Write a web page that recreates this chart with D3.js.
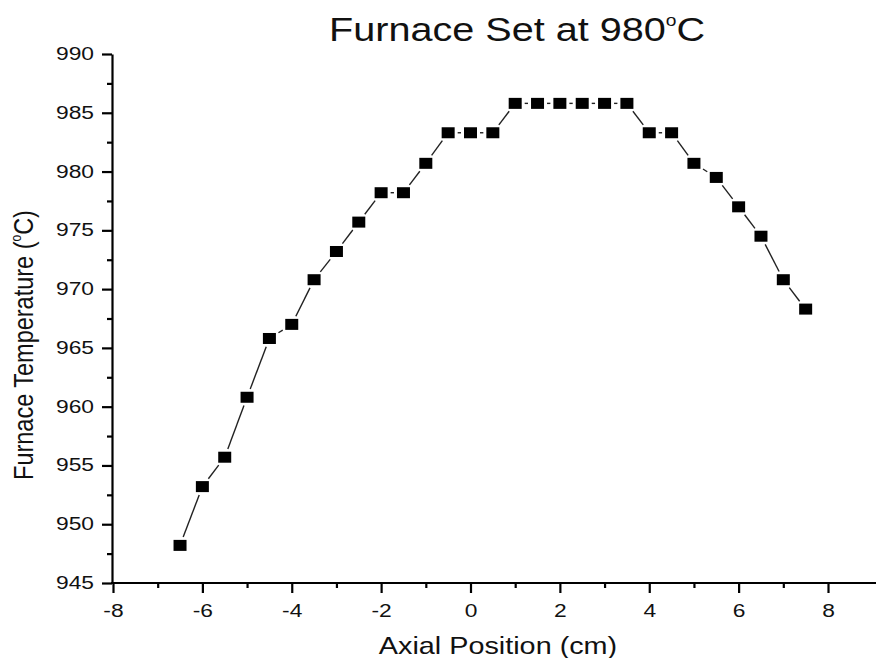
<!DOCTYPE html>
<meta charset="utf-8">
<html>
  <head>
    <title>Furnace Set at 980°C</title>
    <style>
      body { margin: 0; background: #fff; font-family: "Liberation Sans", Arial, sans-serif; }
    </style>
  </head>
  <body>
    <div id="chart"></div>
    <script src="https://d3js.org/d3.v7.min.js"></script>
    <script>

      // data
      const positions = [-6.5, -6, -5.5, -5, -4.5, -4, -3.5, -3, -2.5, -2, -1.5, -1, -0.5, 0, 0.5,
                         1, 1.5, 2, 2.5, 3, 3.5, 4, 4.5, 5, 5.5, 6, 6.5, 7, 7.5];
      const temps = [948.2, 953.2, 955.7, 960.8, 965.8, 967.0, 970.8, 973.2, 975.7, 978.2, 978.2, 980.7, 983.3, 983.3, 983.3,
                     985.8, 985.8, 985.8, 985.8, 985.8, 985.8, 983.3, 983.3, 980.7, 979.5, 977.0, 974.5, 970.8, 968.3];
      const xTicks = [-8, -6, -4, -2, 0, 2, 4, 6, 8];
      const xMinor = [-7, -5, -3, -1, 1, 3, 5, 7];
      const yTicks = [945, 950, 955, 960, 965, 970, 975, 980, 985, 990];
      const yMinor = [947.5, 952.5, 957.5, 962.5, 967.5, 972.5, 977.5, 982.5, 987.5];

      const data = positions.map((p, i) => ({x: p, y: temps[i]}));

      const W = 876, H = 658;
      const stretch = 1.2;   // the picture is a bit wider than tall
      const font = "'Liberation Sans', Arial, sans-serif";

      const svg = d3.select("#chart")
        .append("svg")
          .attr("width", W)
          .attr("height", H);

      // scales
      const x = d3.scaleLinear().domain([-8, 8]).range([113, 828]);
      const y = d3.scaleLinear().domain([945, 990]).range([583, 54]);
      const xAxisScale = x.copy().domain([-8, x.invert(W)]).range([113, W]);

      // x axis
      const gx = svg.append("g")
        .attr("transform", `translate(0, ${y(945)})`)
        .call(d3.axisBottom(xAxisScale).tickValues(xTicks).tickSize(10).tickSizeOuter(0).tickPadding(0)
              .tickFormat(d3.format("d")));
      gx.select(".domain").attr("stroke-width", 2.2).attr("d", `M111,0H${W}`);
      gx.selectAll(".tick line").attr("stroke-width", 2.2);
      gx.selectAll(".tick text")
        .attr("y", 34).attr("dy", null)
        .attr("transform", `scale(${stretch},1)`)
        .style("font-size", "19px").style("font-family", font).attr("fill", "#111")
        .text(d => d < 0 ? "-" + Math.abs(d) : d);

      svg.append("g")
        .attr("transform", `translate(0, ${y(945)})`)
        .call(d3.axisBottom(xAxisScale).tickValues(xMinor).tickSize(5).tickSizeOuter(0).tickFormat(""))
        .call(g => g.select(".domain").remove())
        .selectAll(".tick line").attr("stroke-width", 2.2);

      // y axis
      const gy = svg.append("g")
        .attr("transform", `translate(112, 0)`)
        .call(d3.axisLeft(y).tickValues(yTicks).tickSize(10).tickSizeOuter(0));
      gy.select(".domain").attr("stroke-width", 2.2);
      gy.selectAll(".tick line").attr("stroke-width", 2.2);
      gy.selectAll(".tick text")
        .attr("x", -18 / stretch).attr("dy", null).attr("y", 5.5)
        .attr("transform", `scale(${stretch},1)`)
        .style("font-size", "19px").style("font-family", font).attr("fill", "#111");

      svg.append("g")
        .attr("transform", `translate(112, 0)`)
        .call(d3.axisLeft(y).tickValues(yMinor).tickSize(5).tickSizeOuter(0).tickFormat(""))
        .call(g => g.select(".domain").remove())
        .selectAll(".tick line").attr("stroke-width", 2.2);

      // connecting lines, with a small gap around each symbol
      const hw = 6.5, hh = 5.5, gap = 3;
      const segs = d3.pairs(data).map(([a, b]) => {
        const x1 = x(a.x), y1 = y(a.y), x2 = x(b.x), y2 = y(b.y);
        const len = Math.hypot(x2 - x1, y2 - y1);
        const ux = (x2 - x1) / len, uy = (y2 - y1) / len;
        const edge = Math.min(ux ? hw / Math.abs(ux) : Infinity, uy ? hh / Math.abs(uy) : Infinity) + gap;
        return {x1: x1 + ux * edge, y1: y1 + uy * edge, x2: x2 - ux * edge, y2: y2 - uy * edge};
      });
      svg.append("g")
        .selectAll("line")
        .data(segs)
        .join("line")
          .attr("x1", d => d.x1).attr("y1", d => d.y1)
          .attr("x2", d => d.x2).attr("y2", d => d.y2)
          .attr("stroke", "#222")
          .attr("stroke-width", 1.4);

      // square symbols
      svg.append("g")
        .selectAll("rect")
        .data(data)
        .join("rect")
          .attr("x", d => x(d.x) - hw)
          .attr("y", d => y(d.y) - hh)
          .attr("width", hw * 2)
          .attr("height", hh * 2)
          .attr("fill", "#000");

      // title
      const title = svg.append("text")
        .attr("transform", `translate(517, 41) scale(${stretch},1)`)
        .attr("text-anchor", "middle")
        .style("font-family", font)
        .style("font-size", "33px")
        .attr("fill", "#111");
      title.append("tspan").text("Furnace Set at 980");
      title.append("tspan").attr("dy", -15).style("font-size", "16px").text("o");
      title.append("tspan").attr("dy", 15).text("C");

      // axis titles
      svg.append("text")
        .attr("transform", `translate(498, 654) scale(${stretch},1)`)
        .attr("text-anchor", "middle")
        .style("font-family", font)
        .style("font-size", "24px")
        .attr("fill", "#111")
        .text("Axial Position (cm)");

      const ylab = svg.append("text")
        .attr("transform", `translate(33, 345) scale(${stretch},1) rotate(-90)`)
        .attr("text-anchor", "middle")
        .style("font-family", font)
        .style("font-size", "23.5px")
        .attr("fill", "#111");
      ylab.append("tspan").text("Furnace Temperature (");
      ylab.append("tspan").attr("dy", -10).style("font-size", "12px").text("o");
      ylab.append("tspan").attr("dy", 10).text("C)");

    </script>
  </body>
</html>
